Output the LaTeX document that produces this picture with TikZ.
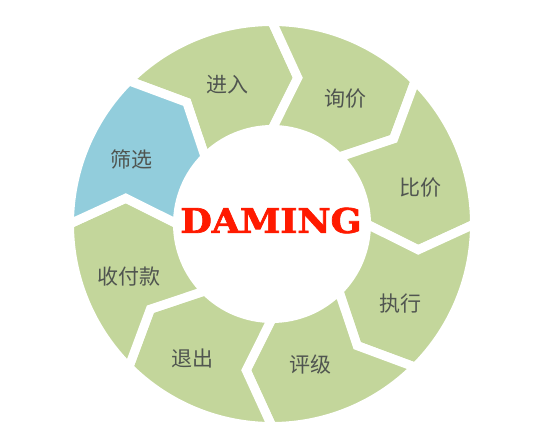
\documentclass[tikz,border=0pt]{standalone}
\usepackage{fontspec}
\newfontfamily\cjk{Noto Sans CJK SC}
\newfontfamily\slab[FakeBold=2]{DejaVu Serif Bold}
\definecolor{leaf}{RGB}{195,214,155}
\definecolor{aqua}{RGB}{146,205,220}
\definecolor{ink}{RGB}{80,85,80}
\definecolor{damingred}{RGB}{255,26,0}
\begin{document}
\begin{tikzpicture}[x=1pt,y=1pt,
  seg/.style={fill=#1,draw=white,line width=9pt,line join=miter},
  lab/.style={text=ink,font=\cjk\fontsize{21}{21}\selectfont}]
\useasboundingbox(-272,-223)rectangle(279,224);
\pgfmathsetmacro{\R}{202.5}
\pgfmathsetmacro{\r}{94.5}
\pgfmathsetmacro{\m}{148.5}
\pgfmathsetmacro{\t}{10}
\foreach \s/\c in {135/leaf,90/leaf,45/leaf,0/leaf,-45/leaf,-90/leaf,-135/leaf,180/aqua}{
  \pgfmathsetmacro{\e}{\s-45}
  \draw[seg=\c](\s:\R) arc (\s:\e:\R)--(\e-\t:\m)--(\e:\r) arc (\e:\s:\r)--(\s-\t:\m)--cycle;
}
\node[lab] (jinru) at (-44.5,139) {进入};
\node[lab] (xunjia) at (73,125) {询价};
\node[lab] (bijia) at (148,36) {比价};
\node[lab] (zhixing) at (128,-80) {执行};
\node[lab] (pingji) at (38,-141) {评级};
\node[lab] (tuichu) at (-79,-135) {退出};
\node[lab] (shoufukuan) at (-142.5,-53) {收付款};
\node[lab] (shaixuan) at (-140.5,65) {筛选};
\node[text=damingred,font=\slab\fontsize{34}{34}\selectfont] (daming) at (-1,3.5) {\scalebox{1.07}[1]{DAMING}};
\end{tikzpicture}
\end{document}
